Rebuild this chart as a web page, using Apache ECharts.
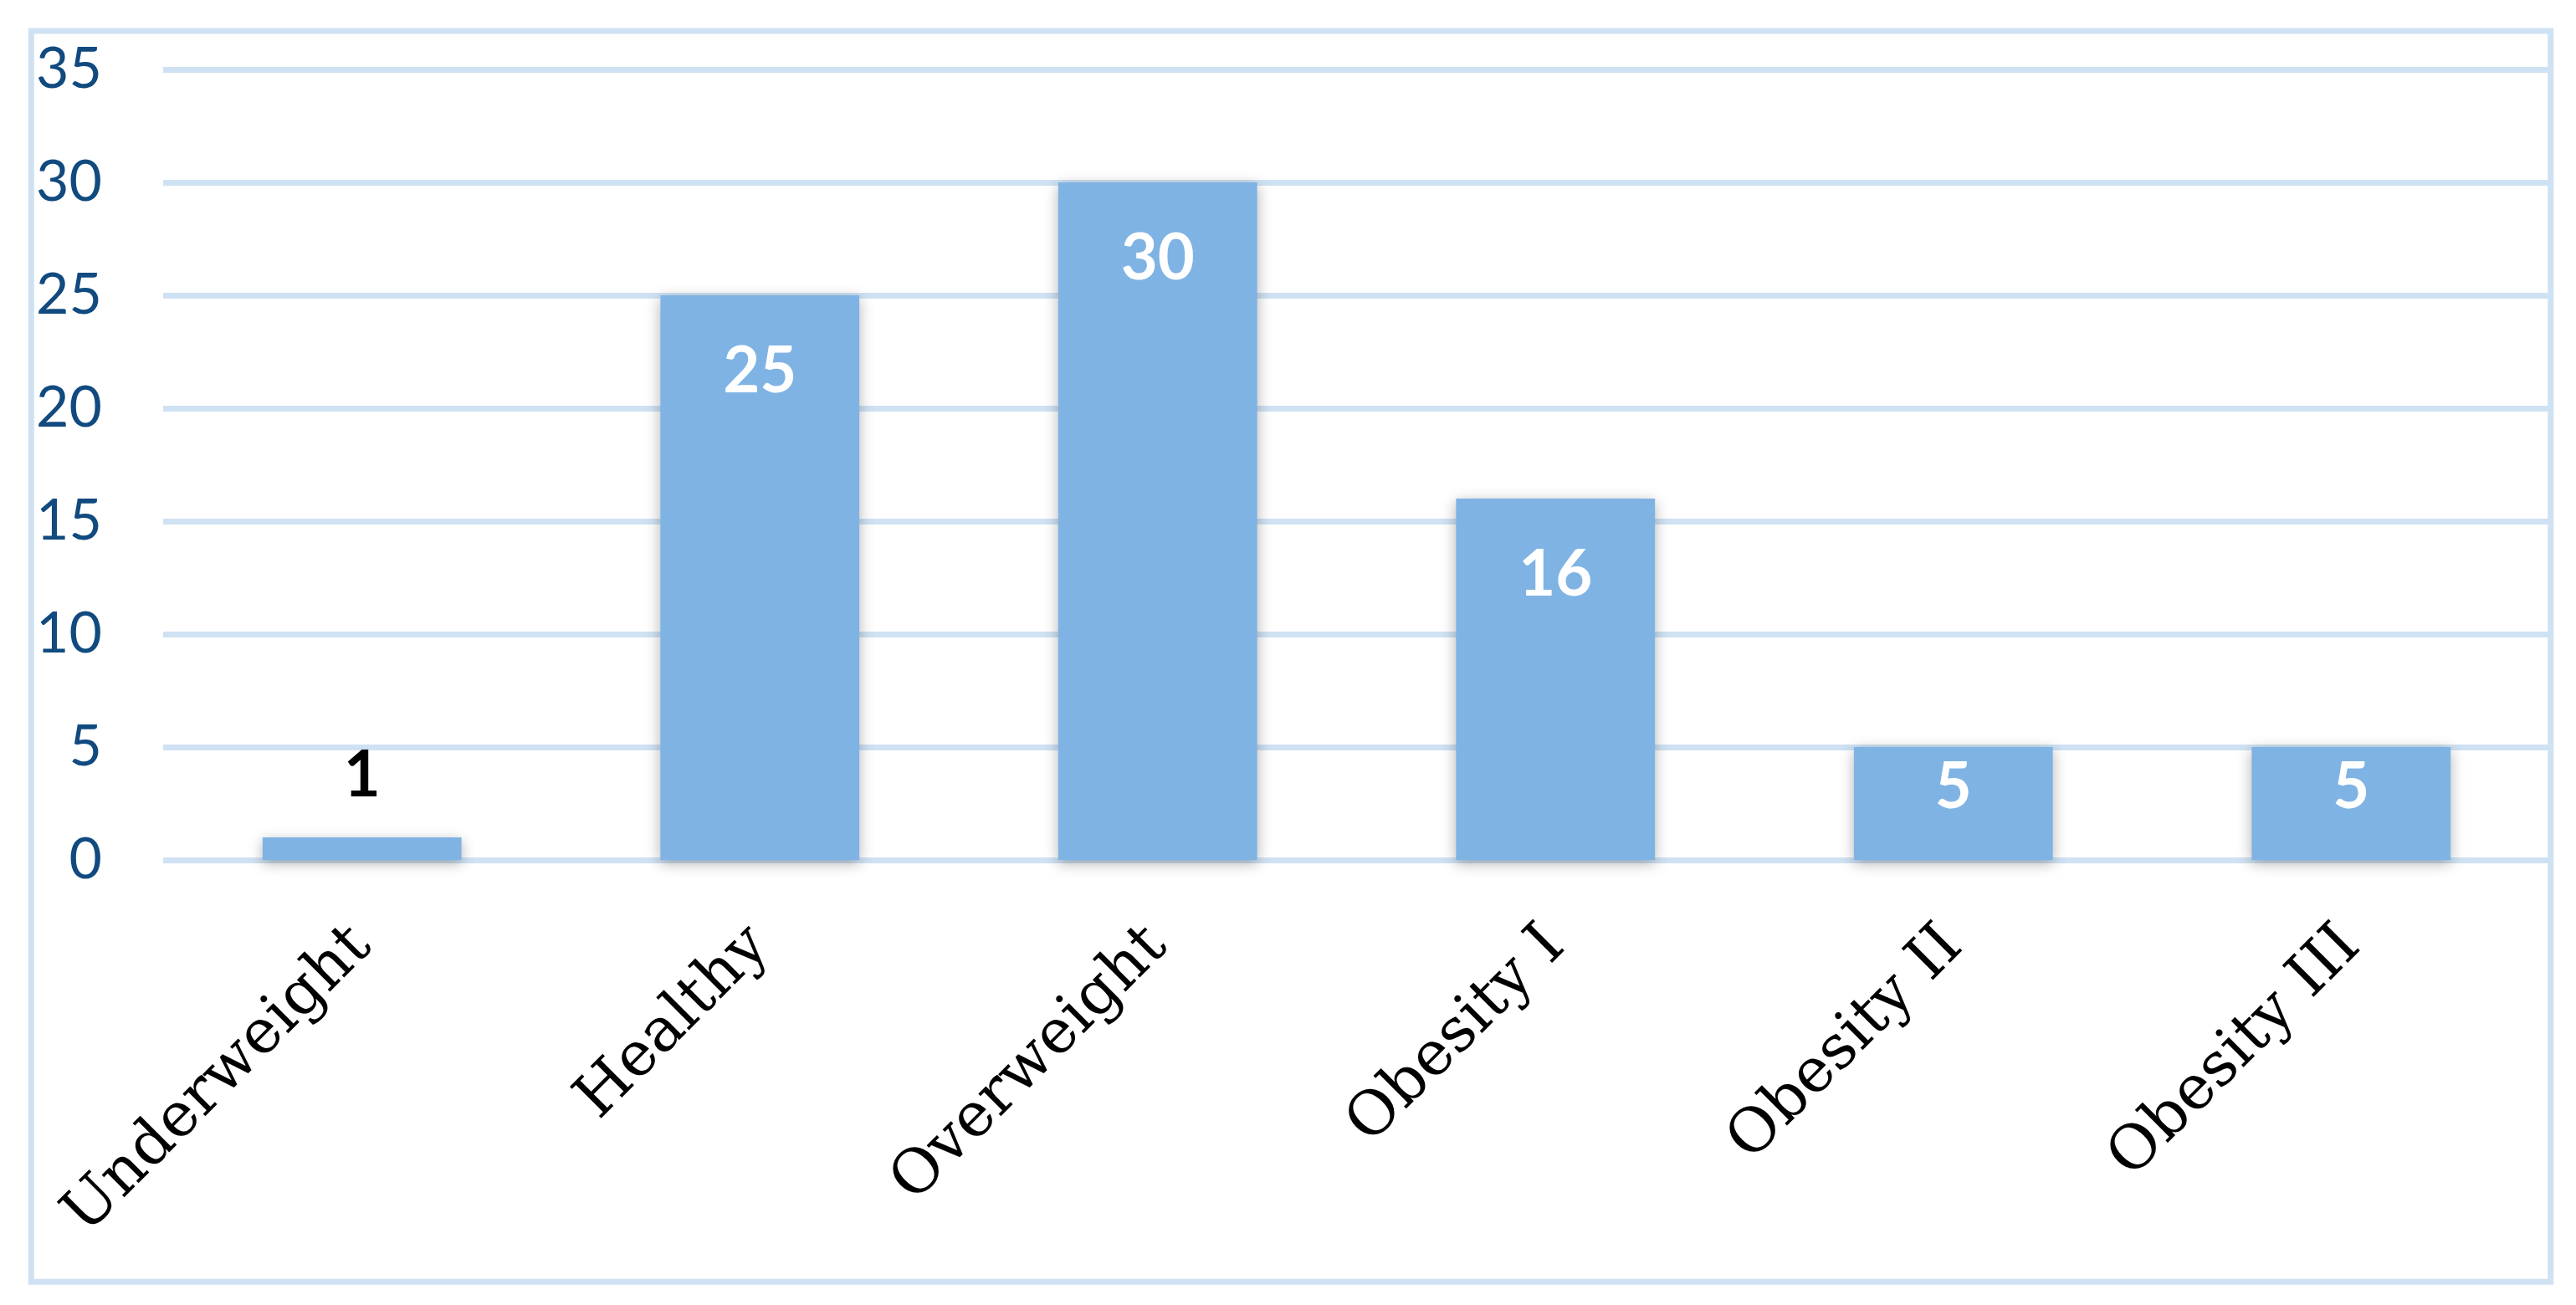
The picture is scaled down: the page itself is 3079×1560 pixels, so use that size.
<!DOCTYPE html>
<html>
<head>
<meta charset="utf-8">
<title>BMI categories</title>
<script src="https://cdn.jsdelivr.net/npm/echarts@6/dist/echarts.min.js"></script>
<style>
html, body { margin: 0; padding: 0; background: #fff; }
#bmiChart { width: 3079px; height: 1560px; }
</style>
</head>
<body>
<div id="bmiChart"></div>
<script>
var categories = ['Underweight', 'Healthy', 'Overweight', 'Obesity I', 'Obesity II', 'Obesity III'];
var counts = [1, 25, 30, 16, 5, 5];
var yTicks = [0, 5, 10, 15, 20, 25, 30, 35];

function bmiCount(){
	var bmiChart = echarts.init(document.getElementById('bmiChart'));
	var barData = [];
	for (var i = 0; i < counts.length; i++) {
		var item = { value: counts[i] };
		if (counts[i] < 3) {
			// the tiny bar gets its label above, in black
			item.label = { position: 'top', distance: 36, color: '#000000' };
		} else if (counts[i] <= 5) {
			// short bars: label sits closer to the top
			item.label = { distance: 10 };
		}
		barData.push(item);
	}
	var option = {
		backgroundColor: '#ffffff',
		animation: false,
		grid: {
			left: 195,
			right: 31,
			top: 83,
			bottom: 532
		},
		graphic: [{
			type: 'rect',
			shape: { x: 37.3, y: 37, width: 3011.4, height: 1495.3 },
			style: { fill: null, stroke: '#cfe2f3', lineWidth: 7 },
			z: 0
		}],
		xAxis: [{
			type: 'category',
			data: categories,
			axisLine: { show: false },
			axisTick: { show: false },
			axisLabel: {
				interval: 0,
				rotate: 45,
				margin: 92,
				color: '#000000',
				fontFamily: 'DejaVu Serif',
				fontSize: 73
			}
		}],
		yAxis: [{
			type: 'value',
			min: yTicks[0],
			max: yTicks[yTicks.length - 1],
			interval: 5,
			axisLine: { show: false },
			axisTick: { show: false },
			axisLabel: {
				margin: 73,
				color: '#114a7f',
				fontFamily: 'Lato',
				fontSize: 68
			},
			splitLine: {
				show: true,
				lineStyle: { color: '#cfe2f3', width: 7 }
			}
		}],
		series: [{
			name: 'count',
			type: 'bar',
			barCategoryGap: '50%',
			data: barData,
			itemStyle: {
				color: '#7fb3e4',
				shadowColor: 'rgba(0,0,0,0.3)',
				shadowBlur: 16,
				shadowOffsetX: 0,
				shadowOffsetY: 4
			},
			label: {
				show: true,
				position: 'insideTop',
				distance: 53,
				color: '#ffffff',
				fontFamily: 'Lato',
				fontWeight: 'bold',
				fontSize: 76
			}
		}]
	};
	bmiChart.setOption(option);
}
bmiCount();
</script>
</body>
</html>
